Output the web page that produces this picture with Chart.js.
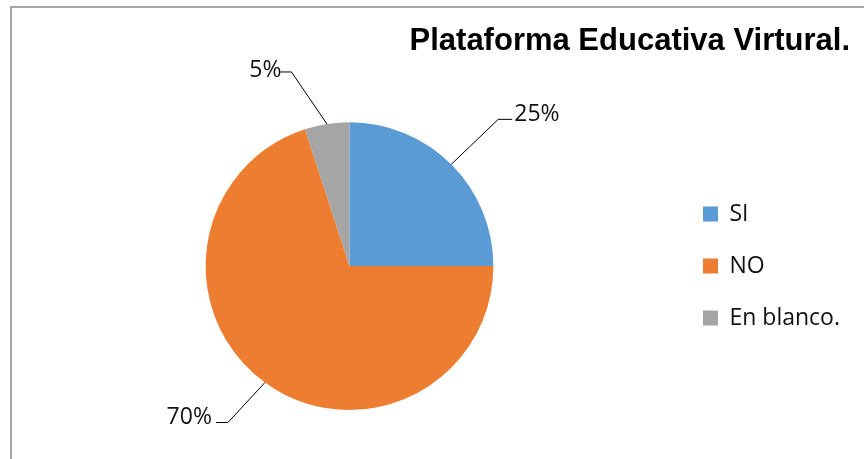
<!DOCTYPE html>
<html>
<head>
<meta charset="utf-8">
<script src="https://cdn.jsdelivr.net/npm/chart.js@4/dist/chart.umd.min.js"></script>
<style>
  html, body { margin: 0; padding: 0; background: #fff; overflow: hidden; }
  #frame { position: absolute; left: 10px; top: 6px; width: 900px; height: 500px;
           border-left: 2px solid #a6a6a6; border-top: 2px solid #a6a6a6; }
  #wrap { position: absolute; left: 0; top: 0; width: 864px; height: 459px; }
</style>
</head>
<body>
<div id="frame"></div>
<div id="wrap"><canvas id="myChart" width="864" height="459"></canvas></div>
<script>
const categories = ['SI', 'NO', 'En blanco.'];
const percentages = [25, 70, 5];
const sliceColors = ['#5B9BD5', '#ED7D31', '#A5A5A5'];
const chartTitle = 'Plataforma Educativa Virtural.';

// leader line from the middle of each slice edge, then a short flat run to the label
const leaderLines = {
  id: 'leaderLines',
  afterDatasetsDraw(chart, args, opts) {
    const ctx = chart.ctx;
    const meta = chart.getDatasetMeta(0);
    meta.data.forEach((arc, i) => {
      const { x, y, startAngle, endAngle, outerRadius } =
        arc.getProps(['x', 'y', 'startAngle', 'endAngle', 'outerRadius'], true);
      const mid = (startAngle + endAngle) / 2;
      const sx = x + Math.cos(mid) * outerRadius;
      const sy = y + Math.sin(mid) * outerRadius;
      const l = opts.leaders[i];
      const ex = sx + l.dx;
      const ey = sy + l.dy;
      const hx = ex + l.run;
      ctx.save();
      ctx.strokeStyle = '#000';
      ctx.lineWidth = 1;
      ctx.beginPath();
      ctx.moveTo(sx, sy);
      ctx.lineTo(ex, ey);
      ctx.lineTo(hx, ey);
      ctx.stroke();
      ctx.font = opts.font;
      ctx.fillStyle = opts.color;
      ctx.textAlign = l.run > 0 ? 'left' : 'right';
      ctx.textBaseline = 'middle';
      ctx.fillText(percentages[i] + '%', hx + l.tx, ey + l.ty);
      ctx.restore();
    });
  }
};

const ctx = document.getElementById('myChart').getContext('2d');
new Chart(ctx, {
  type: 'pie',
  data: {
    labels: categories,
    datasets: [{
      data: percentages,
      backgroundColor: sliceColors,
      borderWidth: 0
    }]
  },
  options: {
    responsive: false,
    animation: false,
    layout: { padding: { left: 25, right: 14, top: 0, bottom: 49 } },
    plugins: {
      title: {
        display: true,
        text: chartTitle,
        align: 'end',
        color: '#000',
        font: { family: '"Liberation Sans", Arial, sans-serif', size: 31, weight: 'bold' },
        padding: { top: 23, bottom: 62 }
      },
      legend: {
        position: 'right',
        fullSize: false,
        align: 'center',
        labels: {
          boxWidth: 15,
          boxHeight: 15,
          padding: 29,
          color: '#111',
          font: { family: '"Open Sans", sans-serif', size: 23 }
        }
      },
      tooltip: { enabled: false },
      leaderLines: {
        font: '23px "Open Sans", sans-serif',
        color: '#111',
        leaders: [
          { dx: 47, dy: -45, run: 14, tx: 2, ty: -5 },
          { dx: -37, dy: 40, run: -12, tx: -4, ty: -5.5 },
          { dx: -35.5, dy: -52, run: -11, tx: 1, ty: -2 }
        ]
      }
    }
  },
  plugins: [leaderLines]
});
</script>
</body>
</html>
